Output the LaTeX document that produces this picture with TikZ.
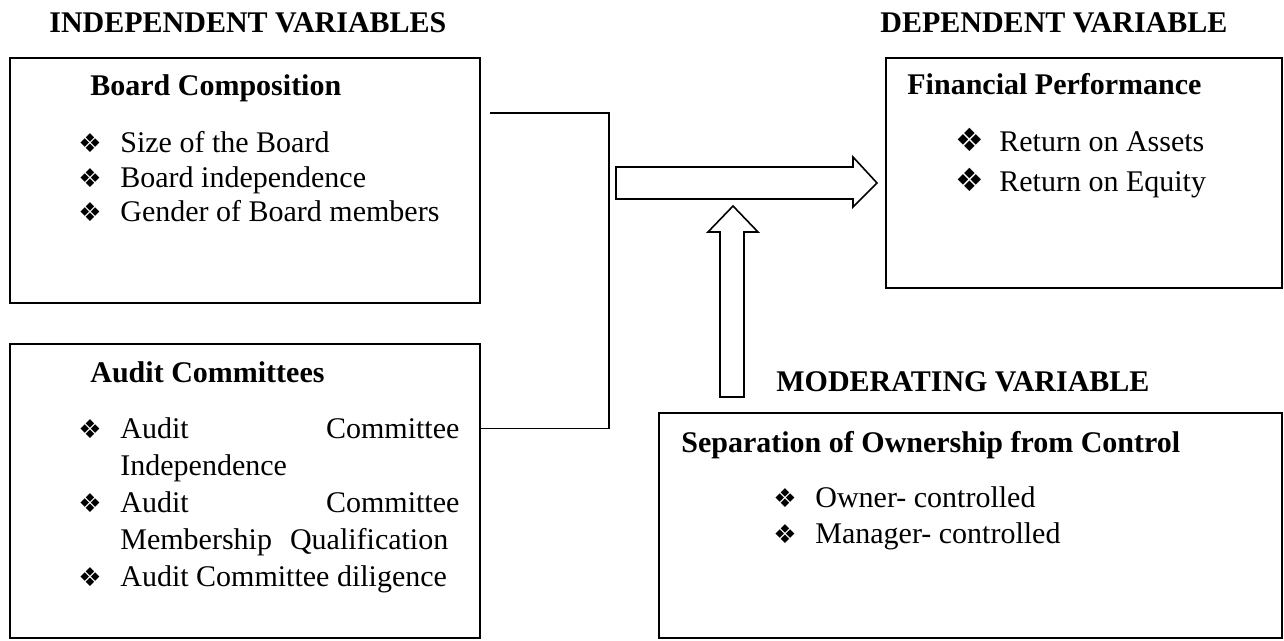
\documentclass[tikz,border=0pt]{standalone}
\usepackage{fontspec}
\setmainfont{Liberation Serif}
\newfontfamily\symfont{DejaVu Sans}
\usetikzlibrary{fit}
\tikzset{
  box/.style={draw, line width=0.8pt, inner sep=0pt},
  title/.style={anchor=base west, inner sep=0pt, font=\fontsize{15pt}{18pt}\selectfont\bfseries},
  list/.style={anchor=base west, inner sep=0pt},
  link/.style={draw, line width=0.7pt},
  block/.style={draw, line width=0.8pt, fill=white, line join=miter},
}
\newcommand\smallbullet{\makebox[21pt][l]{\symfont\fontsize{13pt}{13pt}\selectfont ❖}}
\newcommand\bigbullet{\makebox[22pt][l]{\symfont\fontsize{16pt}{16pt}\selectfont ❖}}

\begin{document}
\begin{tikzpicture}[x=0.5pt, y=-0.5pt]

  \useasboundingbox (0,0) rectangle (1284,641);

  % column titles
  \node[title] (indep) at (49,33) {INDEPENDENT VARIABLES};
  \node[title] (dep) at (880,33) {DEPENDENT VARIABLE};
  \node[title] (moder) at (776,392) {MODERATING VARIABLE};

  % boxes
  \node[box, fit={(10,58) (480,303)}] (board) {};
  \node[box, fit={(10,344) (480,638)}] (audit) {};
  \node[box, fit={(886,58) (1282,288)}] (perf) {};
  \node[box, fit={(659,413) (1282,638)}] (own) {};

  % box headings
  \node[title] (boardhead) at (90,96) {Board Composition};
  \node[title] (audithead) at (90,382) {Audit Committees};
  \node[title] (perfhead) at (907,95) {Financial Performance};
  \node[title] (ownhead) at (681,452) {Separation of Ownership from Control};

  % lists
  \node[list] (boardlist) at (78,153) {\fontsize{15pt}{17.25pt}\selectfont
    \begin{tabular}[t]{@{}l@{}l@{}}
      \smallbullet & Size of the Board\\
      \smallbullet & Board independence\\
      \smallbullet & Gender of Board members
    \end{tabular}};
  \node[list] (auditlist) at (78,438) {\fontsize{15pt}{18.6pt}\selectfont
    \begin{tabular}[t]{@{}p{21pt}@{}p{169.5pt}@{}}
      \smallbullet & Audit\hfill Committee\newline Independence\\
      \smallbullet & Audit\hfill Committee\newline Membership\hspace{0.6em}Qualification\\
      \smallbullet & Audit Committee diligence
    \end{tabular}};
  \node[list] (perflist) at (955,152) {\fontsize{15pt}{20pt}\selectfont
    \begin{tabular}[t]{@{}l@{}l@{}}
      \bigbullet & Return on Assets\\
      \bigbullet & Return on Equity
    \end{tabular}};
  \node[list] (ownlist) at (773,507) {\fontsize{15pt}{18pt}\selectfont
    \begin{tabular}[t]{@{}l@{}l@{}}
      \smallbullet & Owner- controlled\\
      \smallbullet & Manager- controlled
    \end{tabular}};

  % bracket joining the two independent boxes
  \draw[link] ([shift={(9,56)}]board.north east) -| ([shift={(128,85)}]audit.north east)
    -- ([shift={(0,85)}]audit.north east);

  % block arrows
  \draw[block] (616,167) -- (853,167) -- (853,157) -- (877,183) -- (853,207) -- (853,199) -- (616,199) -- cycle;
  \draw[block] (720,397) -- (720,232) -- (708,232) -- (733,206) -- (758,232) -- (744,232) -- (744,397) -- cycle;

\end{tikzpicture}
\end{document}
